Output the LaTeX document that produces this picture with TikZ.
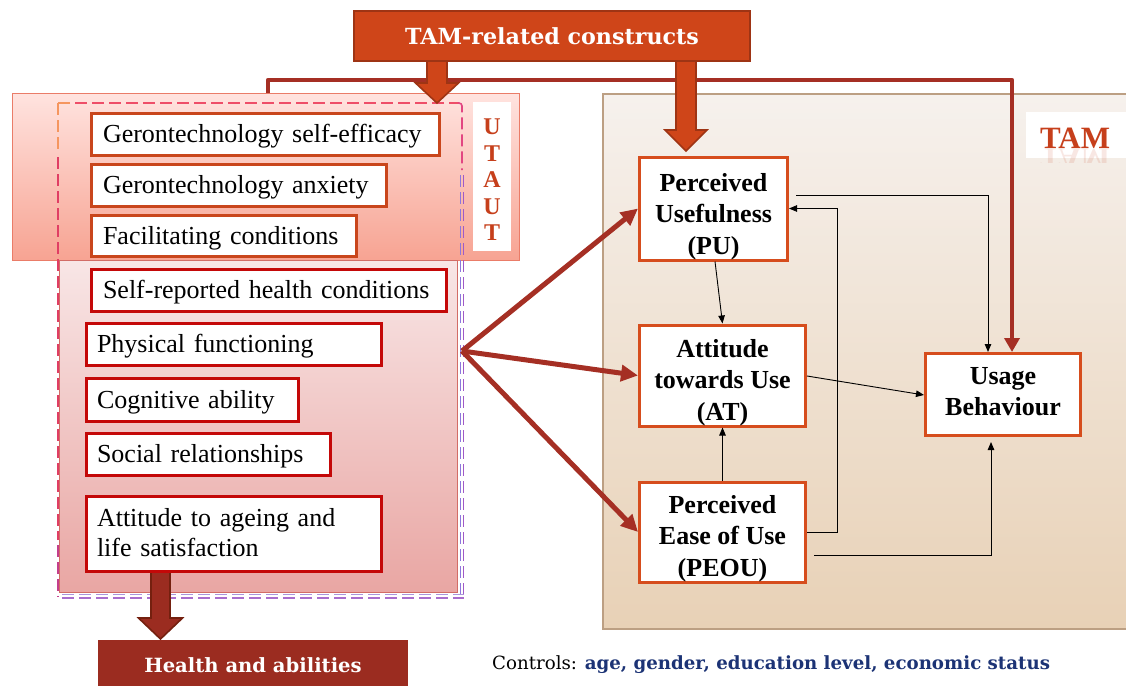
\documentclass[tikz,border=0pt]{standalone}
\usepackage{fontspec}
\setmainfont{Liberation Serif}
\newfontfamily\headfont{DejaVu Serif}
\usetikzlibrary{arrows.meta,calc,shadings}

\definecolor{tamrel}{HTML}{CF4519}
\definecolor{tamreldk}{HTML}{9E3414}
\definecolor{healthc}{HTML}{9B2C20}
\definecolor{healthdk}{HTML}{74200F}
\definecolor{linkred}{HTML}{A52F24}
\definecolor{boxorange}{HTML}{C9461C}
\definecolor{boxred}{HTML}{C40808}
\definecolor{modelbd}{HTML}{D64D1D}
\definecolor{lblred}{HTML}{C63F1B}
\definecolor{ctrlblue}{HTML}{1C3375}

\newcommand\blkarrow[7]{%
  \draw[#1] (#2-#6,#3) -- (#2-#6,#4) -- (#2-#7,#4) -- (#2,#5)
    -- (#2+#7,#4) -- (#2+#6,#4) -- (#2+#6,#3) -- cycle;}

\begin{document}
\begin{tikzpicture}[x=1pt,y=-1pt,
  itemA/.style={draw=boxorange, line width=2.8pt, fill=white, anchor=north west,
    align=left, inner xsep=11.6pt, inner ysep=0pt, font=\fontsize{26}{30}\selectfont,
    text height=22pt, text depth=6pt},
  itemB/.style={itemA, draw=boxred, inner xsep=10.6pt},
  model/.style={draw=modelbd, line width=3pt, fill=white, align=center, inner sep=0pt,
    font=\bfseries\fontsize{26}{31.5}\selectfont, text depth=6pt},
  tarr/.style={draw=black, line width=0.9pt, -{Triangle[length=8pt,width=6.5pt]}},
  thk/.style={draw=linkred, line width=5pt, -{Triangle[length=17pt,width=16pt]}},
  redln/.style={draw=linkred, line width=4.5pt, line join=round,
    -{Triangle[length=14pt,width=15pt]}},
  barrow/.style={fill=tamrel, draw=tamreldk, line width=1.6pt, line join=miter},
  barrowdk/.style={fill=healthc, draw=healthdk, line width=1.6pt, line join=miter},
  dsh/.style={line width=1.6pt, dash pattern=on 12pt off 5pt},
]
\useasboundingbox (0,0) rectangle (1126,685);

% TAM background panel
\node[draw=black!25!brown!60!white, line width=1.5pt, top color={rgb,255:red,246;green,241;blue,237},
  bottom color={rgb,255:red,232;green,209;blue,182}, anchor=north west,
  minimum width=540pt, minimum height=535pt, inner sep=0pt] (tam) at (602,93) {};
\node[fill=white, anchor=north west, minimum width=110pt, minimum height=46pt, inner sep=0pt]
  (tamlbl) at (1026,112) {};
\node[text=lblred, font=\bfseries\fontsize{31}{31}\selectfont, anchor=base] (tamtxt) at (1075,148) {TAM};
\begin{scope}
  \clip (1040,148) rectangle (1115,162);
  \node[text=lblred, opacity=0.12, yscale=-1, font=\bfseries\fontsize{31}{31}\selectfont, anchor=base]
    (tamrefl) at (1075,148) {TAM};
\end{scope}

% UTAUT panel and the health panel below it
\node[draw={rgb,255:red,234;green,124;blue,104}, line width=1.2pt,
  top color={rgb,255:red,255;green,227;blue,223}, bottom color={rgb,255:red,247;green,163;blue,146},
  anchor=north west, minimum width=507pt, minimum height=167pt, inner sep=0pt] (utaut) at (12,93) {};
\node[draw={rgb,255:red,210;green,108;blue,102}, line width=1pt,
  top color={rgb,255:red,248;green,230;blue,230}, bottom color={rgb,255:red,233;green,166;blue,163},
  anchor=north west, minimum width=398pt, minimum height=332pt, inner sep=0pt] (hbox) at (59,260) {};
\node[fill=white, anchor=north west, minimum width=38pt, minimum height=149pt, inner sep=0pt]
  (utautlbl) at (473,102) {};
\node[text=lblred, align=center, font=\bfseries\fontsize{24}{26.5}\selectfont] (utauttxt)
  at (492,180) {U\\T\\A\\U\\T};

% dashed frame around both panels
\draw[dsh, draw={rgb,255:red,238;green,78;blue,104}] (75,103) -- (458,103);
\draw[dsh, draw={rgb,255:red,245;green,150;blue,95}] (58,103) -- (75,103);
\draw[dsh, draw={rgb,255:red,245;green,150;blue,95}] (58,103) -- (58,150);
\draw[dsh, draw={rgb,255:red,224;green,62;blue,100}] (58,157) -- (58,540);
\draw[dsh, draw={rgb,255:red,196;green,62;blue,140}] (58,545) -- (58,597);
\draw[dsh, draw={rgb,255:red,226;green,70;blue,130}, rounded corners=3pt] (458,103) -- (462,103) -- (462,170);
\draw[dsh, line width=1.2pt, draw={rgb,255:red,140;green,120;blue,220}] (460.3,175) -- (460.3,597);
\draw[dsh, line width=1.2pt, draw={rgb,255:red,160;green,90;blue,200}] (463.5,175) -- (463.5,597);
\draw[dsh, line width=1.2pt, draw={rgb,255:red,170;green,150;blue,220}] (62,594.8) -- (463.5,594.8);
\draw[dsh, line width=1.2pt, draw={rgb,255:red,170;green,110;blue,205}] (62,598) -- (463.5,598);

% model boxes
\node[model, minimum width=148pt, minimum height=100pt, text height=97pt] (pu) at (713.5,208.5)
  {Perceived\\Usefulness\\(PU)};
\node[model, minimum width=166pt, minimum height=100pt, text height=95pt] (at) at (722.5,375.5)
  {Attitude\\towards Use\\(AT)};
\node[model, minimum width=166pt, minimum height=99pt, text height=94pt] (peou) at (722.5,532)
  {Perceived\\Ease of Use\\(PEOU)};
\node[model, minimum width=155pt, minimum height=82pt, text height=48pt] (ub) at (1003,394.5)
  {Usage\\Behaviour};

% link from UTAUT to usage behaviour
\draw[redln] ($(utaut.north west)+(256,0)$) -- ++(0,-13) -| ($(ub.north)+(9,0)$);

% block arrows and the two headline boxes
\blkarrow{barrow}{437}{56}{83}{103}{10}{21.5}
\blkarrow{barrow}{686}{56}{130}{151}{10}{21}
\node[fill=tamrel, draw=tamreldk, line width=1.8pt, minimum width=396pt, minimum height=50pt,
  text=white, font=\headfont\bfseries\fontsize{22.2}{24}\selectfont] (tamrelated) at (552,36)
  {TAM-related constructs};

% item boxes
\node[itemA, text width=325pt, minimum height=42.2pt] (se) at (90,112) {Gerontechnology self-efficacy};
\node[itemA, text width=272pt, minimum height=42.2pt] (anx) at (90,163) {Gerontechnology anxiety};
\node[itemA, text width=242pt, minimum height=41.2pt] (fac) at (90,214) {Facilitating conditions};
\node[itemA, draw=boxred, text width=332pt, minimum height=42.2pt] (shc) at (90,268) {Self-reported health conditions};
\node[itemB, text width=274pt, minimum height=42.2pt] (phys) at (85,322) {Physical functioning};
\node[itemB, text width=191pt, minimum height=43.2pt] (cog) at (85,377) {Cognitive ability};
\node[itemB, text width=223pt, minimum height=42.2pt] (soc) at (85,432) {Social relationships};
\blkarrow{barrowdk}{160.5}{565}{618}{639}{9.5}{22}
\node[itemB, text width=274pt, minimum height=75.2pt, text height=20pt, text depth=36pt] (att) at (85,495)
  {Attitude to ageing and\\life satisfaction};

\node[fill=healthc, minimum width=310pt, minimum height=50pt, text=white,
  font=\headfont\bfseries\fontsize{19.6}{24}\selectfont] (health) at (253,665) {Health and abilities};

% thick links into the model
\coordinate (hub) at (462,351);
\draw[thk] (hub) -- (pu.west);
\draw[thk] (hub) -- (at.west);
\draw[thk] (hub) -- (peou.west);

% TAM paths
\draw[tarr] ($(pu.east)+(7,-13.5)$) -| ($(ub.north)+(-15,0)$);
\draw[tarr] (peou.east) -| ($(pu.east)+(48,0)$) -- (pu.east);
\draw[tarr] ($(peou.east)+(7,23)$) -| ($(ub.south)+(-12,5)$);
\draw[tarr] ($(at.east)+(0,0.5)$) -- ($(ub.west)+(0,0.5)$);
\draw[tarr] ($(pu.south)+(1.5,0)$) -- (at.north);
\draw[tarr] (peou.north) -- (at.south);

% controls
\node[anchor=west, inner sep=0pt, font=\headfont\fontsize{18.2}{20}\selectfont] (ctrl) at (492,665)
  {Controls: \textcolor{ctrlblue}{\bfseries age, gender, education level, economic status}};
\end{tikzpicture}
\end{document}
